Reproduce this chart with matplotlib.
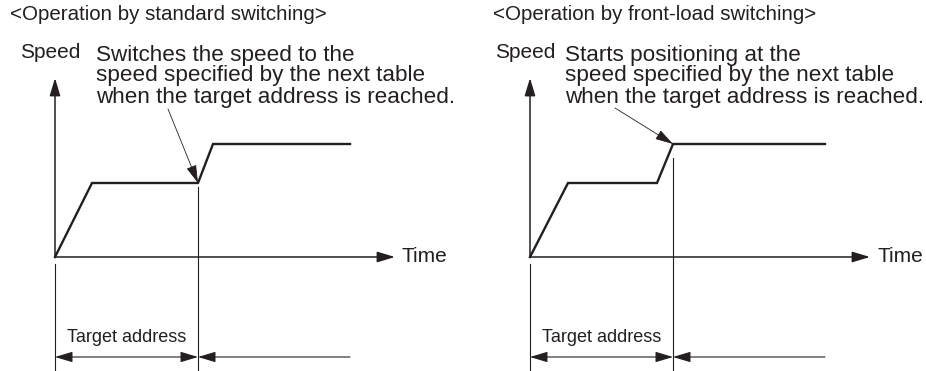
import matplotlib
matplotlib.use('Agg')
import matplotlib.pyplot as plt

# speed profile of each panel (units = pixels from origin)
titles = ['<Operation by standard switching>', '<Operation by front-load switching>']
notes = ['Switches the speed to the\nspeed specified by the next table\nwhen the target address is reached.',
         'Starts positioning at the\nspeed specified by the next table\nwhen the target address is reached.']
time_pts = [[0, 37, 143, 158, 295], [0, 38, 127, 143, 295]]
speed_pts = [[0, 74, 74, 113, 113], [0, 74, 74, 113, 113]]
target_addr = [143, 143]
switch_speed = [74, 113]
marker_top = [70, 99]
note_from = [(113, 148), (85, 149)]
note_x = [41, 35]
title_x = [-45, -37]
end_time = 295
time_axis_end = 340
speed_axis_end = 179

ink = '#231f20'
plt.rcParams['font.family'] = ['Liberation Sans', 'DejaVu Sans']
head = '-|>,head_length=0.6,head_width=0.18'


def arrow(ax, tip, tail, style=head, lw=1.1, scale=18):
    ax.annotate('', xy=tip, xytext=tail,
                arrowprops=dict(arrowstyle=style, color=ink, lw=lw,
                                shrinkA=0, shrinkB=0, mutation_scale=scale))


def draw_panel(ax, i):
    ax.set_axis_off()
    # axes with arrows
    arrow(ax, (0, speed_axis_end), (0, 0))
    arrow(ax, (time_axis_end, 0), (0, 0))
    ax.text(-5, 205, 'Speed', ha='center', va='center', fontsize=15, color=ink)
    ax.text(time_axis_end + 7, 0, 'Time', ha='left', va='center', fontsize=15, color=ink)
    ax.text(title_x[i], 242, titles[i], ha='left', va='center', fontsize=14.8, color=ink)

    # speed curve
    ax.plot(time_pts[i], speed_pts[i], color=ink, lw=1.7, solid_joinstyle='miter')

    # target address marker lines
    ta = target_addr[i]
    ax.plot([ta, ta], [marker_top[i], -114], color=ink, lw=0.8)
    ax.plot([0, 0], [-7, -114], color=ink, lw=0.8)

    # note with arrow to switching point
    ax.text(note_x[i], 181, notes[i], ha='left', va='center', fontsize=16.2, color=ink, linespacing=1.0)
    arrow(ax, (ta, switch_speed[i]), note_from[i], '-|>,head_length=0.7,head_width=0.2', lw=0.6, scale=16)

    # dimension arrows
    arrow(ax, (ta, -100), (0, -100), '<|-|>,head_length=0.6,head_width=0.18', lw=0.8)
    arrow(ax, (ta, -100), (end_time, -100), lw=0.8)
    ax.text(ta / 2, -80, 'Target address', ha='center', va='center', fontsize=13, color=ink)


fig = plt.figure(figsize=(9.26, 3.71), dpi=100)
left = fig.add_axes([0, 0, 0.5, 1])
left.set_xlim(-55, 408)
left.set_ylim(-114, 257)
right = fig.add_axes([0.5, 0, 0.5, 1])
right.set_xlim(-67, 396)
right.set_ylim(-114, 257)
draw_panel(left, 0)
draw_panel(right, 1)

fig.savefig('out.png', dpi=100)
